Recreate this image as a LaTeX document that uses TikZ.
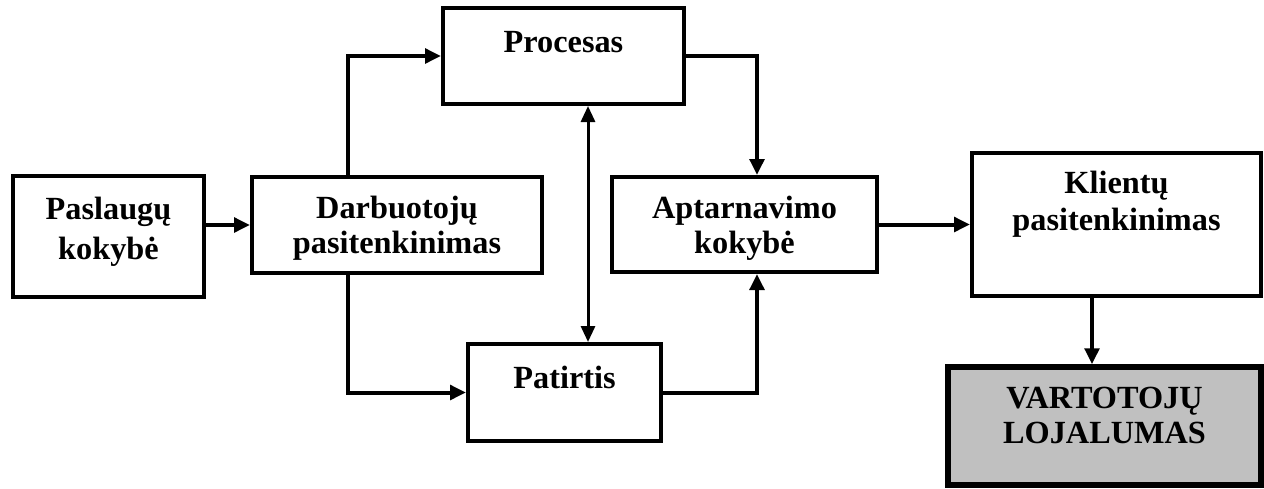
\documentclass[tikz,border=0pt]{standalone}
\usepackage{fontspec}
\setmainfont{Liberation Serif}
\usetikzlibrary{arrows.meta}
\begin{document}
\begin{tikzpicture}[x=1pt,y=-1pt,
  box/.style={draw, line width=4pt, inner sep=0pt},
  txt/.style={inner sep=0pt, align=center,
              font=\fontsize{32.3}{36}\selectfont\bfseries},
  toptxt/.style={txt, anchor=north},
  midtxt/.style={txt, anchor=center},
  link/.style={line width=4pt, -{Triangle[length=16pt,width=14.5pt]}},
  both/.style={line width=3pt, {Triangle[length=16pt,width=14pt]}-{Triangle[length=16pt,width=14pt]}}]
\useasboundingbox (0,0) rectangle (1264,488);

% boxes with their captions
\node[box, minimum width=191pt, minimum height=121pt,
      label={[midtxt, name=pasT, yshift=5pt, font=\fontsize{32.3}{40}\selectfont\bfseries]center:Paslaugų\\kokybė}]
  (pas) at (108.5,236.5) {};
\node[box, minimum width=290pt, minimum height=96pt,
      label={[midtxt, name=darbT, yshift=-3pt, font=\fontsize{32.3}{35}\selectfont\bfseries]center:Darbuotojų\\pasitenkinimas}]
  (darb) at (397,225) {};
\node[box, minimum width=241pt, minimum height=96pt,
      label={[toptxt, name=procT, yshift=-25pt]north:Procesas}]
  (proc) at (563.5,56) {};
\node[box, minimum width=265pt, minimum height=95pt,
      label={[midtxt, name=aptT, yshift=-4pt, font=\fontsize{32.3}{35}\selectfont\bfseries]center:Aptarnavimo\\kokybė}]
  (apt) at (744.5,224.5) {};
\node[box, minimum width=193pt, minimum height=97pt,
      label={[toptxt, name=patT, yshift=-24pt]north:Patirtis}]
  (pat) at (564.5,392.5) {};
\node[box, minimum width=289pt, minimum height=143pt,
      label={[toptxt, name=kliT, yshift=-20pt, font=\fontsize{32.3}{37}\selectfont\bfseries]north:Klientų\\pasitenkinimas}]
  (kli) at (1116.5,224.5) {};
\node[box, line width=5.5pt, fill={rgb,255:red,192;green,192;blue,192},
      minimum width=313pt, minimum height=118pt,
      label={[toptxt, name=varT, yshift=-23pt, font=\fontsize{32.3}{35}\selectfont\bfseries]north:VARTOTOJŲ\\LOJALUMAS}]
  (var) at (1104.5,426) {};

% connectors
\draw[link] (pas.east |- darb.west) -- (darb.west);
\draw[link] ([xshift=-49pt]darb.north) |- (proc.west);
\draw[link] ([xshift=-49pt]darb.south) |- (pat.west);
\draw[link] (proc.east) -| ([xshift=12.5pt]apt.north);
\draw[link] (pat.east) -| ([xshift=12.5pt]apt.south);
\draw[both] ([xshift=24.5pt]proc.south) -- ([xshift=23.5pt]pat.north);
\draw[link] (apt.east) -- (kli.west |- apt.east);
\draw[link] ([xshift=-24.5pt]kli.south) -- ([xshift=-12.5pt]var.north);
\end{tikzpicture}
\end{document}
